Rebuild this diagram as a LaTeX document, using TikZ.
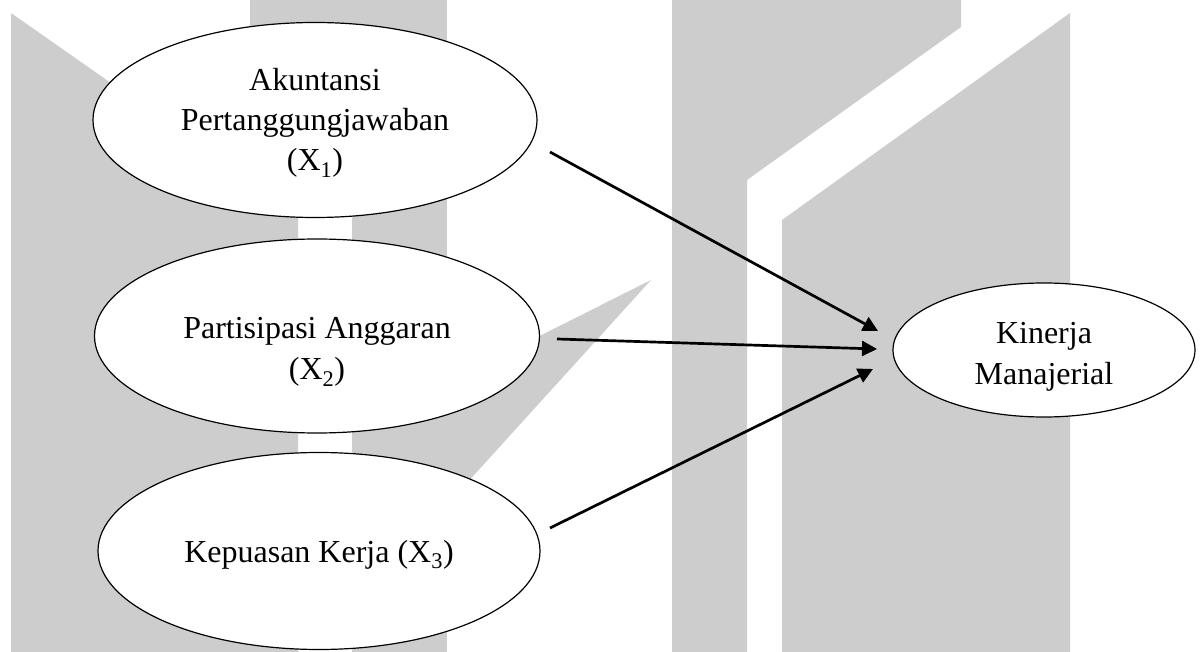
\documentclass[tikz,border=0pt]{standalone}
\usepackage{fontspec}
\setmainfont{Liberation Serif}
\usetikzlibrary{shapes.geometric,arrows.meta}
\definecolor{wm}{RGB}{205,205,205}
% #1: how far the first baseline is raised above the node centre
\newcommand{\placed}[2]{\smash{\raisebox{#1}{\begin{tabular}[t]{@{}c@{}}#2\end{tabular}}}}
\begin{document}
\begin{tikzpicture}[x=1pt,y=-1pt,
  var/.style={draw=black, line width=1.2pt, fill=white, ellipse, inner sep=0pt,
    font=\fontsize{32}{40}\selectfont},
  link/.style={line width=2.7pt, -{Triangle[length=15pt,width=15pt]}}]
\useasboundingbox (0,0) rectangle (1200,652);
% watermark
\fill[wm] (11,13) -- (298,214) -- (298,652) -- (11,652) -- cycle;
\fill[wm] (250,0) rectangle (352,160);
\fill[wm] (352,0) rectangle (447,652);
\fill[wm] (446,383) -- (651,280) -- (446,506) -- cycle;
\fill[wm] (672,0) -- (961,0) -- (961,27) -- (747,180) -- (747,652) -- (672,652) -- cycle;
\fill[wm] (782,220) -- (1070,13) -- (1070,652) -- (782,652) -- cycle;
% variables
\node[var, minimum width=444pt, minimum height=195pt] (x1) at (315,120)
  {\placed{29pt}{Akuntansi\\Pertanggungjawaban\\(X\textsubscript{1})}};
\node[var, minimum width=445pt, minimum height=194pt] (x2) at (317,336)
  {\placed{-3pt}{Partisipasi Anggaran\\[1pt](X\textsubscript{2})}};
\node[var, minimum width=442pt, minimum height=197pt] (x3) at (319,551)
  {\placed{-11pt}{Kepuasan Kerja (X\textsubscript{3})}};
\node[var, minimum width=302pt, minimum height=134pt] (y) at (1044,350)
  {\placed{6pt}{Kinerja\\[1pt]Manajerial}};
% connector ends
\coordinate (s1) at (550,152);
\coordinate (t1) at (878,331);
\coordinate (s2) at (557,339);
\coordinate (t2) at (877,349);
\coordinate (s3) at (550,528);
\coordinate (t3) at (873,369);
\draw[link] (s1) -- (t1);
\draw[link] (s2) -- (t2);
\draw[link] (s3) -- (t3);
\end{tikzpicture}
\end{document}
